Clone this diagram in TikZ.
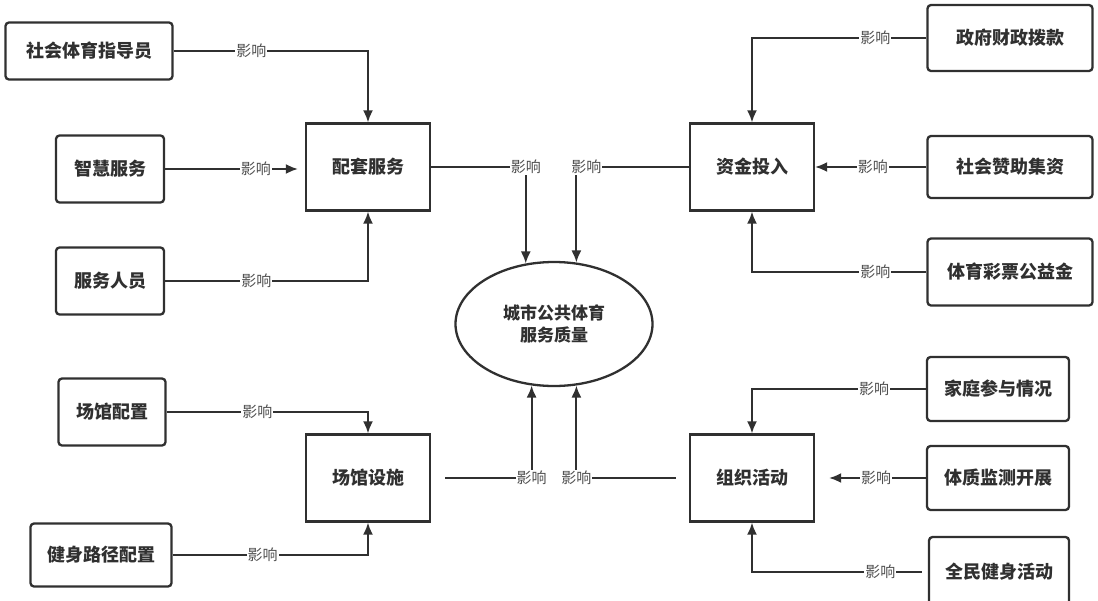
\documentclass[tikz,border=0pt]{standalone}
\usepackage{fontspec}
\setmainfont{Noto Sans CJK SC}
\usetikzlibrary{arrows.meta,shapes.geometric}
\definecolor{ink}{HTML}{303030}
\definecolor{lblgray}{HTML}{505050}

\begin{document}
\begin{tikzpicture}[x=1pt,y=-1pt,
  inbox/.style={draw=ink,line width=2.3pt,rounded corners=3.5pt,font=\fontsize{18}{20}\selectfont\bfseries,text=ink},
  hub/.style={draw=ink,line width=2.3pt,minimum width=124pt,minimum height=87pt,font=\fontsize{18}{20}\selectfont\bfseries,text=ink},
  arr/.style={-{Latex[length=12pt,width=10pt]},line width=1.9pt,draw=ink},
  lbl/.style={fill=white,inner sep=1pt,text=lblgray,font=\fontsize{15}{17}\selectfont}]
%\draw[help lines] (0,0)grid[step=50](1098,600);
\useasboundingbox (0,0) rectangle (1098,600);
% hubs
\node[hub] (ptfw) at (368,167) {配套服务};
\node[hub] (zjtr) at (752,167) {资金投入};
\node[hub] (cgss) at (368,478) {场馆设施};
\node[hub] (zzhd) at (752,478) {组织活动};
\node[ellipse,draw=ink,line width=2.3pt,minimum width=197pt,minimum height=124pt,align=center,
      font=\fontsize{17}{22}\selectfont\bfseries,text=ink] (city) at (554,324) {城市公共体育\\服务质量};
% left inputs
\node[inbox,minimum width=167pt,minimum height=57pt] (shzdy) at (89,51) {社会体育指导员};
\node[inbox,minimum width=108pt,minimum height=67pt] (zhfw) at (110,169) {智慧服务};
\node[inbox,minimum width=108pt,minimum height=67pt] (fwry) at (110,281) {服务人员};
\node[inbox,minimum width=107pt,minimum height=67pt] (cgpz) at (112,412) {场馆配置};
\node[inbox,minimum width=141pt,minimum height=63pt] (jslj) at (101,555) {健身路径配置};
% right inputs
\node[inbox,minimum width=165pt,minimum height=66pt] (zfbk) at (1010,38) {政府财政拨款};
\node[inbox,minimum width=165pt,minimum height=62pt] (shzz) at (1010,167) {社会赞助集资};
\node[inbox,minimum width=165pt,minimum height=67pt] (tycp) at (1010,272) {体育彩票公益金};
\node[inbox,minimum width=142pt,minimum height=64pt] (jtcy) at (998,389) {家庭参与情况};
\node[inbox,minimum width=142pt,minimum height=64pt] (tzjc) at (998,478) {体质监测开展};
\node[inbox,minimum width=140pt,minimum height=70pt] (qmjs) at (999,572) {全民健身活动};
% connectors into hubs
\draw[arr] (shzdy.east)-|(ptfw.north)node[lbl,pos=0.2]{影响};
\draw[arr,shorten >=7pt] (zhfw.east)--(zhfw.east-|ptfw.west)node[lbl,pos=0.65]{影响};
\draw[arr] (fwry.east)-|(ptfw.south)node[lbl,pos=0.225]{影响};
\draw[arr] (zfbk.west)-|(zjtr.north)node[lbl,pos=0.146]{影响};
\draw[arr] (shzz.west)--(zjtr.east)node[lbl,pos=0.48]{影响};
\draw[arr] (tycp.west)-|(zjtr.south)node[lbl,pos=0.146]{影响};
\draw[arr] (cgpz.east)-|(cgss.north)node[lbl,pos=0.225]{影响};
\draw[arr] (jslj.east)-|(cgss.south)node[lbl,pos=0.23]{影响};
\draw[arr] (jtcy.west)-|(zzhd.north)node[lbl,pos=0.149]{影响};
\draw[arr,shorten >=14pt] (tzjc.west)--(zzhd.east)node[lbl,pos=0.45]{影响};
\draw[arr,shorten <=6pt] (qmjs.west)-|(zzhd.south)node[lbl,pos=0.135]{影响};
% hubs into the centre
\draw[arr] (ptfw.east)-|(city.115)node[lbl,pos=0.5]{影响};
\draw[arr] (zjtr.west)-|(city.70)node[lbl,pos=0.5,xshift=10pt]{影响};
\draw[arr,shorten <=14pt] (cgss.east)-|(city.-110)node[lbl,pos=0.5]{影响};
\draw[arr,shorten <=13pt] (zzhd.west)-|(city.-70)node[lbl,pos=0.5]{影响};
\end{tikzpicture}
\end{document}
